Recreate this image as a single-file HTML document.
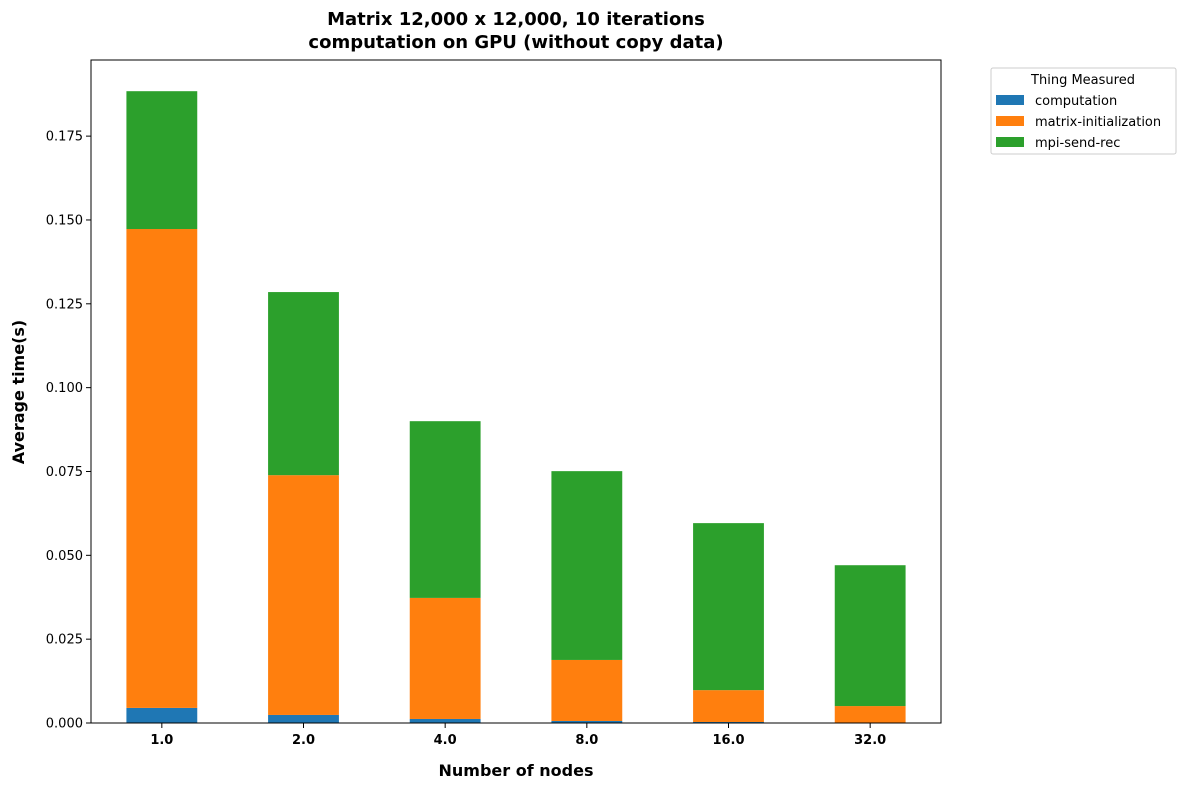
<!DOCTYPE html>
<html><head><meta charset="utf-8"><style>
body{margin:0;background:#fff;}
svg text{font-family:"DejaVu Sans","Liberation Sans",sans-serif;}
</style></head><body>
<svg id="chart" width="1186" height="789" xmlns="http://www.w3.org/2000/svg">
<rect width="1186" height="789" fill="#fff"/>
<text x="516" y="25" text-anchor="middle" font-size="18" font-weight="bold">Matrix 12,000 x 12,000, 10 iterations</text>
<text x="516" y="48" text-anchor="middle" font-size="18" font-weight="bold">computation on GPU (without copy data)</text>
<g id="bars"></g>
<g id="axes"></g>
<text x="516" y="776" text-anchor="middle" font-size="16" font-weight="bold">Number of nodes</text>
<text x="24" y="392" text-anchor="middle" font-size="16" font-weight="bold" transform="rotate(-90 24 392)">Average time(s)</text>
<g>
<rect x="991" y="68" width="185" height="86" fill="#fff" stroke="#ccc" rx="2"/>
<text x="1083" y="84" text-anchor="middle" font-size="13">Thing Measured</text>
<rect x="996" y="95" width="28" height="10" fill="#1f77b4"/>
<text x="1035" y="105" font-size="13">computation</text>
<rect x="996" y="116" width="28" height="10" fill="#ff7f0e"/>
<text x="1035" y="126" font-size="13">matrix-initialization</text>
<rect x="996" y="137" width="28" height="10" fill="#2ca02c"/>
<text x="1035" y="147" font-size="13">mpi-send-rec</text>
</g>
</svg>
<script>
const categories=["1.0","2.0","4.0","8.0","16.0","32.0"];
const computation=[0.0045,0.0024,0.0012,0.0006,0.0003,0.00015];
const matrixInit=[0.1428,0.0715,0.0361,0.0182,0.0095,0.0049];
const mpiSendRec=[0.0411,0.0546,0.0527,0.0563,0.0498,0.0420];
const yTicks=[0,0.025,0.05,0.075,0.1,0.125,0.15,0.175];
const yTickLabels=["0.000","0.025","0.050","0.075","0.100","0.125","0.150","0.175"];

const L=91,R=941,T=60,B=723,yMax=0.1977;
const NS="http://www.w3.org/2000/svg";
const ux=(R-L)/categories.length;
const xc=i=>L+ux*(i+0.5);
const y=v=>B-v/yMax*(B-T);
function mk(tag,attrs,parent){const e=document.createElementNS(NS,tag);for(const k in attrs)e.setAttribute(k,attrs[k]);parent.appendChild(e);return e;}
const bars=document.getElementById('bars'),axes=document.getElementById('axes');
const series=[[computation,"#1f77b4","computation"],[matrixInit,"#ff7f0e","matrix-init"],[mpiSendRec,"#2ca02c","mpi-send-rec"]];
categories.forEach((c,i)=>{
  let base=0;
  series.forEach(([arr,col,nm])=>{
    const v=arr[i];
    const r=mk('rect',{x:xc(i)-ux*0.25,width:ux*0.5,y:y(base+v),height:y(base)-y(base+v),fill:col},bars);
    
    
    base+=v;
  });
  mk('line',{x1:xc(i),x2:xc(i),y1:B,y2:B+5,stroke:'#000'},axes);
  const t=mk('text',{x:xc(i),y:B+21,'text-anchor':'middle','font-size':13,'font-weight':'bold'},axes);
  t.textContent=c;
  
  
});
yTicks.forEach((v,i)=>{
  mk('line',{x1:L-5,x2:L,y1:y(v),y2:y(v),stroke:'#000'},axes);
  const t=mk('text',{x:L-8,y:y(v)+4.5,'text-anchor':'end','font-size':13},axes);
  t.textContent=yTickLabels[i];
  
  
});
const f=mk('rect',{x:L,y:T,width:R-L,height:B-T,fill:'none',stroke:'#000','stroke-width':1},axes);


</script>
</body></html>
